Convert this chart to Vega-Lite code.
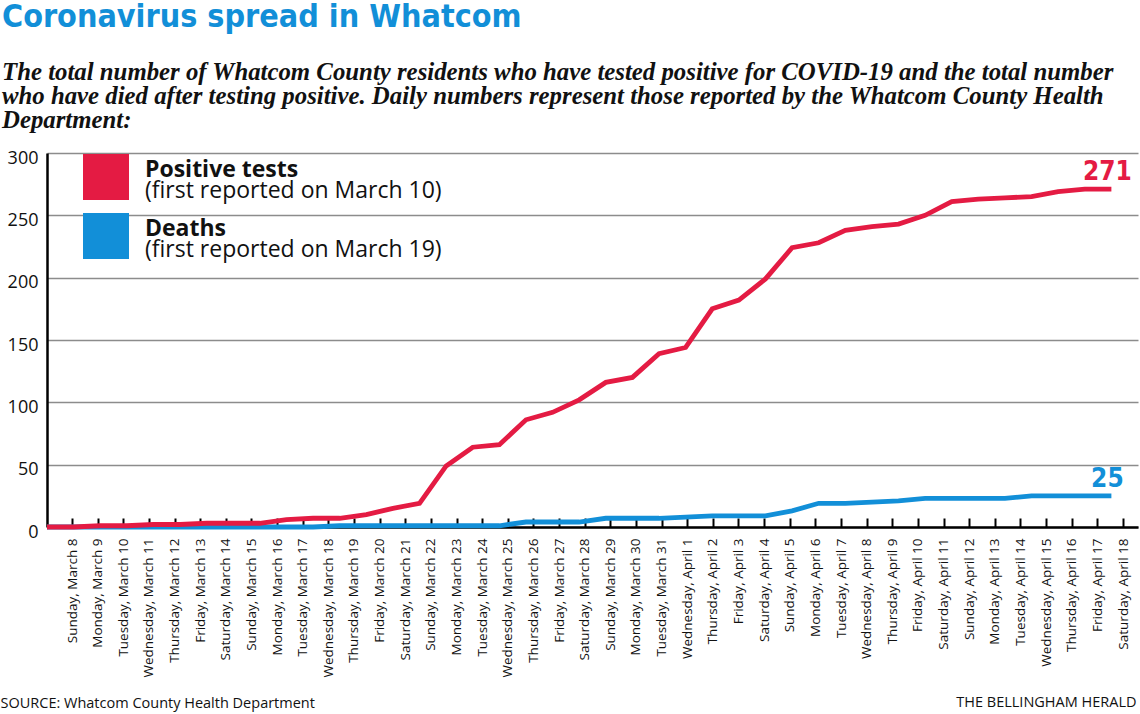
{
  "$schema": "https://vega.github.io/schema/vega-lite/v6.json",
  "width": 1091,
  "height": 374,
  "autosize": {"type": "none"},
  "padding": {"left": 47, "top": 153, "right": 2, "bottom": 187},
  "background": "#ffffff",
  "config": {"view": {"stroke": null}},
  "title": {
    "text": "Coronavirus spread in Whatcom",
    "subtitle": [
      "The total number of Whatcom County residents who have tested positive for COVID-19 and the total number",
      "who have died after testing positive. Daily numbers represent those reported by the Whatcom County Health",
      "Department:"
    ],
    "anchor": "start",
    "frame": "group",
    "dx": -45,
    "offset": 15,
    "font": "DejaVu Sans Condensed",
    "fontWeight": "bold",
    "fontSize": 32,
    "color": "#128fd8",
    "subtitleFont": "Liberation Serif",
    "subtitleFontStyle": "italic",
    "subtitleFontWeight": "bold",
    "subtitleFontSize": 24.8,
    "subtitleColor": "#111111",
    "subtitleLineHeight": 24,
    "subtitlePadding": 26
  },
  "data": {
    "values": [
      {"day": "Sunday, March 8", "Positive tests": 0, "Deaths": 0},
      {"day": "Monday, March 9", "Positive tests": 0, "Deaths": 0},
      {"day": "Tuesday, March 10", "Positive tests": 1, "Deaths": 0},
      {"day": "Wednesday, March 11", "Positive tests": 1, "Deaths": 0},
      {"day": "Thursday, March 12", "Positive tests": 2, "Deaths": 0},
      {"day": "Friday, March 13", "Positive tests": 2, "Deaths": 0},
      {"day": "Saturday, March 14", "Positive tests": 3, "Deaths": 0},
      {"day": "Sunday, March 15", "Positive tests": 3, "Deaths": 0},
      {"day": "Monday, March 16", "Positive tests": 3, "Deaths": 0},
      {"day": "Tuesday, March 17", "Positive tests": 6, "Deaths": 0},
      {"day": "Wednesday, March 18", "Positive tests": 7, "Deaths": 0},
      {"day": "Thursday, March 19", "Positive tests": 7, "Deaths": 1},
      {"day": "Friday, March 20", "Positive tests": 10, "Deaths": 1},
      {"day": "Saturday, March 21", "Positive tests": 15, "Deaths": 1},
      {"day": "Sunday, March 22", "Positive tests": 19, "Deaths": 1},
      {"day": "Monday, March 23", "Positive tests": 49, "Deaths": 1},
      {"day": "Tuesday, March 24", "Positive tests": 64, "Deaths": 1},
      {"day": "Wednesday, March 25", "Positive tests": 66, "Deaths": 1},
      {"day": "Thursday, March 26", "Positive tests": 86, "Deaths": 4},
      {"day": "Friday, March 27", "Positive tests": 92, "Deaths": 4},
      {"day": "Saturday, March 28", "Positive tests": 102, "Deaths": 4},
      {"day": "Sunday, March 29", "Positive tests": 116, "Deaths": 7},
      {"day": "Monday, March 30", "Positive tests": 120, "Deaths": 7},
      {"day": "Tuesday, March 31", "Positive tests": 139, "Deaths": 7},
      {"day": "Wednesday, April 1", "Positive tests": 144, "Deaths": 8},
      {"day": "Thursday, April 2", "Positive tests": 175, "Deaths": 9},
      {"day": "Friday, April 3", "Positive tests": 182, "Deaths": 9},
      {"day": "Saturday, April 4", "Positive tests": 199, "Deaths": 9},
      {"day": "Sunday, April 5", "Positive tests": 224, "Deaths": 13},
      {"day": "Monday, April 6", "Positive tests": 228, "Deaths": 19},
      {"day": "Tuesday, April 7", "Positive tests": 238, "Deaths": 19},
      {"day": "Wednesday, April 8", "Positive tests": 241, "Deaths": 20},
      {"day": "Thursday, April 9", "Positive tests": 243, "Deaths": 21},
      {"day": "Friday, April 10", "Positive tests": 250, "Deaths": 23},
      {"day": "Saturday, April 11", "Positive tests": 261, "Deaths": 23},
      {"day": "Sunday, April 12", "Positive tests": 263, "Deaths": 23},
      {"day": "Monday, April 13", "Positive tests": 264, "Deaths": 23},
      {"day": "Tuesday, April 14", "Positive tests": 265, "Deaths": 25},
      {"day": "Wednesday, April 15", "Positive tests": 269, "Deaths": 25},
      {"day": "Thursday, April 16", "Positive tests": 271, "Deaths": 25},
      {"day": "Friday, April 17", "Positive tests": 271, "Deaths": 25}
    ]
  },
  "resolve": {"scale": {"x": "independent"}, "axis": {"x": "independent"}},
  "layer": [
    {
      "layer": [
        {
          "mark": {"type": "line", "strokeWidth": 4.8},
          "encoding": {
            "x": {
              "field": "day", "type": "ordinal",
              "scale": {"type": "point", "padding": 0, "domain": ["Sunday, March 8","Monday, March 9","Tuesday, March 10","Wednesday, March 11","Thursday, March 12","Friday, March 13","Saturday, March 14","Sunday, March 15","Monday, March 16","Tuesday, March 17","Wednesday, March 18","Thursday, March 19","Friday, March 20","Saturday, March 21","Sunday, March 22","Monday, March 23","Tuesday, March 24","Wednesday, March 25","Thursday, March 26","Friday, March 27","Saturday, March 28","Sunday, March 29","Monday, March 30","Tuesday, March 31","Wednesday, April 1","Thursday, April 2","Friday, April 3","Saturday, April 4","Sunday, April 5","Monday, April 6","Tuesday, April 7","Wednesday, April 8","Thursday, April 9","Friday, April 10","Saturday, April 11","Sunday, April 12","Monday, April 13","Tuesday, April 14","Wednesday, April 15","Thursday, April 16","Friday, April 17","Saturday, April 18"]},
              "axis": {
                "orient": "bottom", "domain": true, "domainColor": "#000000", "domainWidth": 2.5,
                "labels": false, "ticks": false, "grid": false,
                "title": "THE BELLINGHAM HERALD",
                "titleX": 1089, "titleY": 179, "titleAlign": "right", "titleAnchor": "end",
                "titleBaseline": "alphabetic", "titleFont": "Open Sans", "titleFontWeight": "normal",
                "titleFontSize": 14.5, "titleColor": "#111111"
              }
            },
            "y": {
              "field": "Deaths", "type": "quantitative",
              "scale": {"domain": [0, 300], "nice": false},
              "axis": {
                "values": [0, 50, 100, 150, 200, 250, 300],
                "grid": true, "gridColor": "#8c8c8c", "gridWidth": 1.5,
                "domain": true, "domainColor": "#000000", "domainWidth": 2.5,
                "ticks": false, "labelFont": "Open Sans", "labelFontSize": 18,
                "labelColor": "#111111", "labelPadding": 9, "labelOffset": 5, "title": null
              }
            },
            "stroke": {
              "datum": "(first reported on March 19)",
              "scale": {"domain": ["(first reported on March 10)", "(first reported on March 19)"], "range": ["#e41b43", "#128fd8"]},
              "legend": {
                "orient": "none", "legendX": 36, "legendY": 22, "title": null, "padding": 0,
                "symbolType": "square", "symbolSize": 2116, "symbolStrokeWidth": 0, "symbolOpacity": 0,
                "labelFont": "Open Sans", "labelFontSize": 23, "labelFontWeight": "normal",
                "labelColor": "#111111", "labelOffset": 16, "rowPadding": 13, "labelLimit": 400,
                "labelBaseline": "alphabetic"
              }
            }
          }
        },
        {
          "mark": {"type": "line", "strokeWidth": 4.8},
          "encoding": {
            "x": {"field": "day", "type": "ordinal"},
            "y": {"field": "Positive tests", "type": "quantitative", "axis": {"title": null}},
            "stroke": {"datum": "(first reported on March 10)"}
          }
        },
        {
          "transform": [
            {"filter": {"field": "day", "equal": "Friday, April 17"}},
            {"fold": ["Positive tests", "Deaths"], "as": ["series", "value"]}
          ],
          "mark": {"type": "text", "font": "DejaVu Sans Condensed", "fontWeight": "bold", "fontSize": 26, "align": "center", "baseline": "alphabetic", "dx": -4, "dy": -9},
          "encoding": {
            "x": {"field": "day", "type": "ordinal"},
            "y": {"field": "value", "type": "quantitative", "axis": {"title": null}},
            "text": {"field": "value", "type": "quantitative"},
            "fill": {
              "field": "series", "type": "nominal",
              "scale": {"domain": ["Positive tests", "Deaths"], "range": ["#e41b43", "#128fd8"]},
              "legend": {
                "orient": "none", "legendX": 36, "legendY": 1, "title": null, "padding": 0,
                "symbolType": "square", "symbolSize": 2116, "symbolStrokeWidth": 0, "symbolOpacity": 1,
                "labelFont": "Open Sans", "labelFontSize": 23, "labelFontWeight": "bold",
                "labelColor": "#111111", "labelOffset": 16, "rowPadding": 13, "labelLimit": 400,
                "labelBaseline": "alphabetic"
              }
            }
          }
        }
      ]
    },
    {
      "mark": {"type": "point", "opacity": 0},
      "encoding": {
        "x": {
          "field": "day", "type": "ordinal",
          "scale": {"type": "point", "padding": 0, "range": [25, 1076], "domain": ["Sunday, March 8","Monday, March 9","Tuesday, March 10","Wednesday, March 11","Thursday, March 12","Friday, March 13","Saturday, March 14","Sunday, March 15","Monday, March 16","Tuesday, March 17","Wednesday, March 18","Thursday, March 19","Friday, March 20","Saturday, March 21","Sunday, March 22","Monday, March 23","Tuesday, March 24","Wednesday, March 25","Thursday, March 26","Friday, March 27","Saturday, March 28","Sunday, March 29","Monday, March 30","Tuesday, March 31","Wednesday, April 1","Thursday, April 2","Friday, April 3","Saturday, April 4","Sunday, April 5","Monday, April 6","Tuesday, April 7","Wednesday, April 8","Thursday, April 9","Friday, April 10","Saturday, April 11","Sunday, April 12","Monday, April 13","Tuesday, April 14","Wednesday, April 15","Thursday, April 16","Friday, April 17","Saturday, April 18"]},
          "axis": {
            "orient": "bottom", "domain": false, "grid": false,
            "ticks": true, "tickSize": -9, "tickWidth": 2, "tickColor": "#000000",
            "labelAngle": -90, "labelFont": "Open Sans", "labelFontSize": 13.5, "labelColor": "#111111",
            "labelPadding": 20, "labelLimit": 300,
            "title": "SOURCE: Whatcom County Health Department",
            "titleX": -47, "titleY": 180, "titleAlign": "left", "titleAnchor": "start",
            "titleBaseline": "alphabetic", "titleFont": "Open Sans", "titleFontWeight": "normal",
            "titleFontSize": 14.5, "titleColor": "#111111"
          }
        },
        "y": {"datum": 0, "type": "quantitative", "axis": {"title": null}}
      }
    }
  ]
}
